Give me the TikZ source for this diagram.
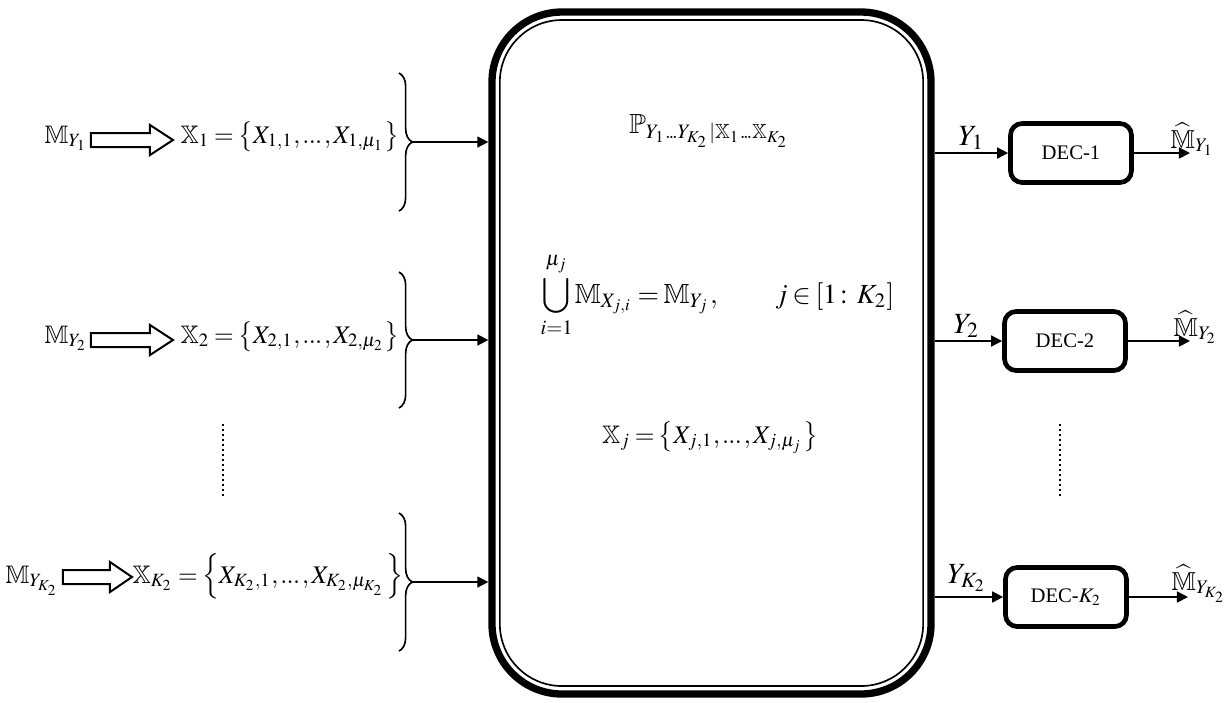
\documentclass[tikz,border=0pt]{standalone}
\usepackage{amsmath,amssymb}
\usepackage{mathptmx}
\usepackage[no-math]{fontspec}
\newfontfamily\decfont{Liberation Serif}
\usetikzlibrary{arrows.meta,decorations.pathreplacing,positioning}
\newcommand{\tdots}{\mathinner{\ldotp\mkern-2mu\ldotp\mkern-2mu\ldotp}}
\thickmuskip=3mu plus 2mu
\medmuskip=2mu plus 1mu
\thinmuskip=1.5mu

\begin{document}
\begin{tikzpicture}[x=0.3pt, y=-0.3pt,
  every node/.style={font=\fontsize{8.3}{10}\selectfont},
  lbl/.style={inner sep=0pt, anchor=base west},
  setlbl/.style={lbl, font=\fontsize{7.6}{9}\selectfont},
  outlbl/.style={lbl, font=\fontsize{8.8}{10}\selectfont},
  hatlbl/.style={lbl, font=\fontsize{7.8}{9}\selectfont},
  conn/.style={line width=0.5pt, -{Triangle[length=3.3pt, width=3.3pt]}},
  fatarrow/.style={line width=0.6pt},
  setbrace/.style={decorate, decoration={brace, amplitude=4pt}, line width=0.5pt},
  decbox/.style={draw, line width=1.4pt, rounded corners=3.5pt,
    minimum width=36.3pt, minimum height=17.7pt, inner sep=0pt,
    font=\decfont\fontsize{6.2}{7}\selectfont},
  dots/.style={line width=0.7pt, dash pattern=on 0.6pt off 0.9pt}]
\useasboundingbox (0,0) rectangle (1230,702);
%
% ---- Channel ----
\node[draw, line width=2.2pt, rounded corners=21pt, minimum width=131.7pt,
  minimum height=204.6pt, inner sep=0pt] (box) at (711.5,353) {};
\node[draw, line width=0.5pt, rounded corners=18.6pt, minimum width=127pt,
  minimum height=199.8pt, inner sep=0pt] (inbox) at (box.center) {};
\node[inner sep=0pt, anchor=base] (pch) at (710,133)
  {$\mathbb{P}_{Y_1 \tdots Y_{K_2} | \mathbb{X}_1 \tdots \mathbb{X}_{K_2}}$};
\node[lbl] (union) at (540,303)
  {$\displaystyle\bigcup_{i=1}^{\mu_j} \mathbb{M}_{X_{j,i}} = \mathbb{M}_{Y_j}, \qquad j \in [1\colon K_2]$};
\node[setlbl, anchor=base] (xj) at (710,443)
  {$\mathbb{X}_j = \left\{X_{j,1}, \tdots, X_{j,\mu_j}\right\}$};
%
% ---- Encoders ----
\node[setlbl] (mA) at (44,143) {$\mathbb{M}_{Y_1}$};
\node[setlbl] (xA) at (180,143) {$\mathbb{X}_1 = \left\{X_{1,1}, \tdots, X_{1,\mu_1}\right\}$};
\node[setlbl] (mB) at (44,343) {$\mathbb{M}_{Y_2}$};
\node[setlbl] (xB) at (180,343) {$\mathbb{X}_2 = \left\{X_{2,1}, \tdots, X_{2,\mu_2}\right\}$};
\node[setlbl] (mK) at (5,583) {$\mathbb{M}_{Y_{K_2}}$};
\node[setlbl] (xK) at (132,583) {$\mathbb{X}_{K_2} = \left\{X_{K_2,1}, \tdots, X_{K_2,\mu_{K_2}}\right\}$};
%
\draw[fatarrow] (91,140) ++(0,-7) -- ++(59,0) -- ++(0,-8) -- ++(23,15)
  -- ++(-23,15) -- ++(0,-8) -- ++(-59,0) -- cycle;
\draw[fatarrow] (91,340) ++(0,-7) -- ++(59,0) -- ++(0,-8) -- ++(23,15)
  -- ++(-23,15) -- ++(0,-8) -- ++(-59,0) -- cycle;
\draw[fatarrow] (63,577) ++(0,-7) -- ++(47,0) -- ++(0,-8) -- ++(22,15)
  -- ++(-22,15) -- ++(0,-8) -- ++(-47,0) -- cycle;
%
\draw[setbrace] (399,73) -- (399,211);
\draw[setbrace] (399,272) -- (399,408);
\draw[setbrace] (399,513) -- (399,651);
\coordinate (bA) at (412,142);
\coordinate (bB) at (412,340);
\coordinate (bK) at (412,582);
\draw[conn] (bA) -- (box.west |- bA);
\draw[conn] (bB) -- (box.west |- bB);
\draw[conn] (bK) -- (box.west |- bK);
\draw[dots] (223,424) -- (223,497);
%
% ---- Decoders ----
\node[decbox] (decA) at (1071,153) {DEC-1};
\node[decbox] (decB) at (1065,341) {DEC-2};
\node[decbox] (decK) at (1066,597) {DEC-$K_2$};
\draw[conn] (box.east |- decA) -- (decA);
\draw[conn] (box.east |- decB) -- (decB);
\draw[conn] (box.east |- decK) -- (decK);
\node[outlbl] (yA) at (958,145) {$Y_1$};
\node[outlbl] (yB) at (953,333) {$Y_2$};
\node[outlbl] (yK) at (947,583) {$Y_{K_2}$};
\coordinate (oA) at (1190,153);
\coordinate (oB) at (1190,341);
\coordinate (oK) at (1188,597);
\draw[conn] (decA) -- (oA);
\draw[conn] (decB) -- (oB);
\draw[conn] (decK) -- (oK);
\node[hatlbl] (hatA) at (1170,148) {$\widehat{\mathbb{M}}_{Y_1}$};
\node[hatlbl] (hatB) at (1173,336) {$\widehat{\mathbb{M}}_{Y_2}$};
\node[hatlbl] (hatK) at (1171,590) {$\widehat{\mathbb{M}}_{Y_{K_2}}$};
\draw[dots] (1060,424) -- (1060,497);
\end{tikzpicture}
\end{document}
